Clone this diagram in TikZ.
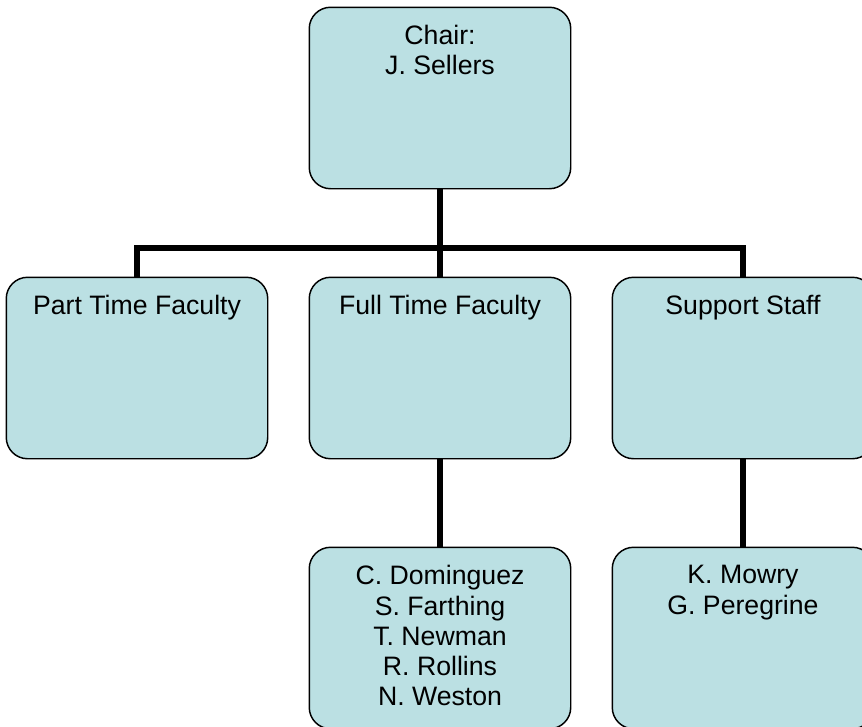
\documentclass[tikz,border=0pt]{standalone}
\usepackage{fontspec}
\setmainfont{Liberation Sans}
\usetikzlibrary{positioning}
\usetikzlibrary{calc}
\definecolor{boxblue}{HTML}{BBE0E3}

\begin{document}
\begin{tikzpicture}[x=0.75pt,y=-0.75pt,
    unit/.style={draw, fill=boxblue, line width=1.1pt, rounded corners=16pt,
                 minimum width=195pt, minimum height=135pt, inner sep=0pt},
    lbl/.style={anchor=north, align=center, inner sep=0pt,
                font=\fontsize{20}{22.6}\selectfont},
    link/.style={line width=4.5pt}]
            \clip (0,0) rectangle (862,726); % keep the page size of the original
            \coordinate (bar) at (440,248);
            \node[unit]  (chair)   at (440,98)  {};
            \node[unit]  (part)    at (137,368) {};
            \node[unit]  (full)    at (440,368) {};
            \node[unit]  (supp)    at (743,368) {};
            \node[unit]  (full_n)  at (440,638) {};
            \node[unit]  (supp_n)  at (743,638) {};
            \draw[link] (chair) -- (bar);
            \draw[link] (part.north) |- (bar) -| (supp.north);
            \draw[link] (bar) -- (full.north);
            \draw[link] (full) -- (full_n);
            \draw[link] (supp) -- (supp_n);
            % redraw the boxes over the line ends
            \foreach \b in {chair,part,full,supp,full_n,supp_n}
                \draw[line width=1.1pt, rounded corners=16pt, fill=boxblue]
                    (\b.north west) rectangle (\b.south east);
            \node[lbl] (chair_t)  at ($(chair.north)+(0,18)$)  {Chair:\\J. Sellers};
            \node[lbl] (part_t)   at ($(part.north)+(0,18)$)   {Part Time Faculty};
            \node[lbl] (full_t)   at ($(full.north)+(0,18)$)   {Full Time Faculty};
            \node[lbl] (supp_t)   at ($(supp.north)+(0,18)$)   {Support Staff};
            \node[lbl] (full_n_t) at ($(full_n.north)+(0,18)$) {C. Dominguez\\S. Farthing\\T. Newman\\R. Rollins\\N. Weston};
            \node[lbl] (supp_n_t) at ($(supp_n.north)+(0,18)$) {K. Mowry\\G. Peregrine};
        \end{tikzpicture}
\end{document}
